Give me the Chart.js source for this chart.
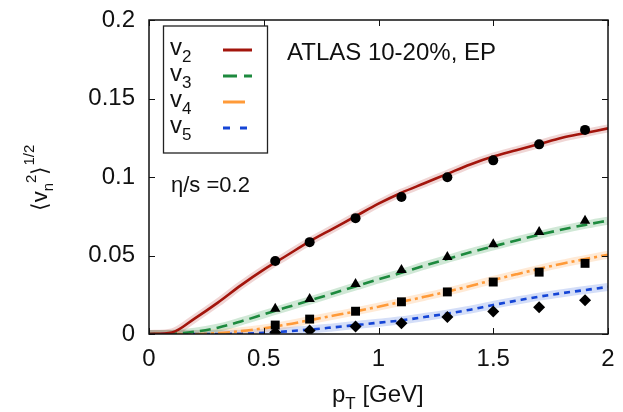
<!DOCTYPE html>
<html>
<head>
<meta charset="utf-8">
<script src="https://cdn.jsdelivr.net/npm/chart.js@4.4.1/dist/chart.umd.min.js"></script>
<style>
    html, body { margin: 0; padding: 0; background: #ffffff; }
    #wrap { width: 623px; height: 412px; }
</style>
</head>
<body>
<div id="wrap"><canvas id="flowChart" width="623" height="412"></canvas></div>
<script>
// ==========================================
// DATA
// ==========================================
const curvePt = [0, 0.1, 0.2, 0.3, 0.4, 0.5, 0.6, 0.7, 0.8, 0.9, 1.0, 1.1, 1.2, 1.3, 1.4, 1.5, 1.6, 1.7, 1.8, 1.9, 2.0];
const v2Curve = [0, 0.001, 0.010, 0.020, 0.031, 0.041, 0.050, 0.059, 0.067, 0.075, 0.083, 0.090, 0.096, 0.102, 0.108, 0.113, 0.117, 0.121, 0.125, 0.128, 0.131];
const v3Curve = [0, 0.0002, 0.0015, 0.004, 0.008, 0.0125, 0.017, 0.0213, 0.0258, 0.0303, 0.0348, 0.039, 0.0435, 0.0478, 0.052, 0.0558, 0.0596, 0.0632, 0.0665, 0.0695, 0.0722];
const v4Curve = [0, 0, 0, 0.0006, 0.0018, 0.0036, 0.006, 0.0088, 0.0116, 0.0144, 0.0174, 0.0205, 0.0237, 0.027, 0.0306, 0.0344, 0.038, 0.0415, 0.0448, 0.0477, 0.0505];
const v5Curve = [0, 0, 0, 0, 0.0002, 0.0008, 0.0017, 0.0028, 0.0042, 0.0057, 0.0072, 0.0087, 0.0108, 0.013, 0.0155, 0.0185, 0.0212, 0.0238, 0.026, 0.028, 0.030];

const atlasPt = [0.55, 0.7, 0.9, 1.1, 1.3, 1.5, 1.7, 1.9];
const atlasV2 = [0.0465, 0.0585, 0.0738, 0.0873, 0.0998, 0.1106, 0.1208, 0.130];
const atlasV3 = [0.0161, 0.0223, 0.0318, 0.0408, 0.049, 0.0571, 0.065, 0.0722];
const atlasV4 = [0.0057, 0.0095, 0.0145, 0.0205, 0.0268, 0.0331, 0.0394, 0.045];
const atlasV5 = [0.001, 0.0023, 0.0047, 0.0069, 0.0108, 0.0144, 0.0171, 0.0215];

const xTicks = [0, 0.5, 1, 1.5, 2];
const yTicks = [0, 0.05, 0.1, 0.15, 0.2];

document.addEventListener('DOMContentLoaded', function () {

    const FONT = "'Liberation Sans', Arial, sans-serif";
    const toXY = (xs, ys) => xs.map((x, i) => ({ x: x, y: ys[i] }));

    const series = [
        { sub: '2', curve: v2Curve, pts: atlasV2, color: '#a3150c', band: 'rgba(170,30,20,0.18)', dash: [], legendDash: [], marker: 'circle', r: 5 },
        { sub: '3', curve: v3Curve, pts: atlasV3, color: '#1d8a3e', band: 'rgba(40,150,70,0.22)', dash: [11, 6], legendDash: [14, 7], marker: 'triangle', r: 6 },
        { sub: '4', curve: v4Curve, pts: atlasV4, color: '#ff9a38', band: 'rgba(255,160,70,0.22)', dash: [12, 4, 3, 4], legendDash: [], marker: 'rect', r: 6.3 },
        { sub: '5', curve: v5Curve, pts: atlasV5, color: '#1545d6', band: 'rgba(40,90,220,0.2)', dash: [6, 5], legendDash: [7, 10], marker: 'rectRot', r: 6 }
    ];

    // ==========================================
    // 1. DATASETS
    // ==========================================
    const datasets = [];
    series.forEach(function (s) {
        datasets.push({
            data: toXY(atlasPt, s.pts),
            showLine: false,
            pointStyle: s.marker,
            pointRadius: s.r,
            backgroundColor: '#000',
            borderColor: '#000',
            borderWidth: 0,
            order: 0
        });
        datasets.push({
            data: toXY(curvePt, s.curve),
            showLine: true,
            borderColor: s.color,
            borderWidth: 2.6,
            borderDash: s.dash,
            pointRadius: 0,
            cubicInterpolationMode: 'monotone',
            order: 1
        });
        datasets.push({
            data: toXY(curvePt, s.curve),
            showLine: true,
            borderColor: s.band,
            borderWidth: 8,
            pointRadius: 0,
            cubicInterpolationMode: 'monotone',
            order: 2
        });
    });

    // ==========================================
    // 2. FRAME, INWARD TICKS, LEGEND AND LABELS
    // ==========================================
    const decorPlugin = {
        id: 'decor',
        afterDraw(chart) {
            const ctx = chart.ctx;
            const a = chart.chartArea;
            const xs = chart.scales.x, ys = chart.scales.y;
            ctx.save();

            // frame
            ctx.strokeStyle = '#111';
            ctx.lineWidth = 1.5;
            ctx.strokeRect(a.left, a.top, a.right - a.left, a.bottom - a.top);

            // inward ticks on all four sides
            ctx.lineWidth = 1;
            ctx.beginPath();
            xTicks.forEach(function (v) {
                const px = Math.round(xs.getPixelForValue(v)) + 0.5;
                ctx.moveTo(px, a.bottom); ctx.lineTo(px, a.bottom - 6);
                ctx.moveTo(px, a.top); ctx.lineTo(px, a.top + 6);
            });
            yTicks.forEach(function (v) {
                const py = Math.round(ys.getPixelForValue(v)) + 0.5;
                ctx.moveTo(a.left, py); ctx.lineTo(a.left + 6, py);
                ctx.moveTo(a.right, py); ctx.lineTo(a.right - 6, py);
            });
            ctx.stroke();

            // legend box
            ctx.fillStyle = '#fff';
            ctx.fillRect(163, 26, 104, 127);
            ctx.strokeStyle = '#222';
            ctx.lineWidth = 1.3;
            ctx.strokeRect(163.5, 26, 104, 127);
            series.forEach(function (s, i) {
                const base = 55 + i * 26;
                ctx.fillStyle = '#111';
                ctx.textBaseline = 'alphabetic';
                ctx.textAlign = 'left';
                ctx.font = '24px ' + FONT;
                ctx.fillText('v', 170, base);
                ctx.font = '17px ' + FONT;
                ctx.fillText(s.sub, 182, base + 7);
                ctx.strokeStyle = s.color;
                ctx.lineWidth = 3;
                ctx.setLineDash(s.legendDash);
                ctx.beginPath();
                ctx.moveTo(223, base - 5);
                ctx.lineTo(i === 2 ? 245 : 252, base - 5);
                ctx.stroke();
                ctx.setLineDash([]);
            });

            // annotations
            ctx.fillStyle = '#111';
            ctx.font = '24px ' + FONT;
            ctx.fillText('ATLAS 10-20%, EP', 287, 60);
            ctx.font = '22px ' + FONT;
            ctx.fillText('\u03b7/s =0.2', 171, 192);

            // x axis title: p_T [GeV]
            ctx.font = '24px ' + FONT;
            let x = 332;
            ctx.fillText('p', x, 402);
            x += ctx.measureText('p').width;
            ctx.font = '17px ' + FONT;
            ctx.fillText('T', x, 409);
            x += ctx.measureText('T').width;
            ctx.font = '24px ' + FONT;
            ctx.fillText(' [GeV]', x, 402);

            // y axis title: <v_n^2>^(1/2), rotated
            ctx.translate(47, 178);
            ctx.rotate(-Math.PI / 2);
            const parts = [
                { t: '\u27e8v', f: 22, dy: 0 },
                { t: 'n', f: 15, dy: 6 },
                { t: '2', f: 15, dy: -11 },
                { t: '\u27e9', f: 22, dy: 0 },
                { t: '1/2', f: 15, dy: -13 }
            ];
            let w = 0;
            parts.forEach(function (p) { ctx.font = p.f + 'px ' + FONT; w += ctx.measureText(p.t).width; });
            let cx = -w / 2;
            parts.forEach(function (p) {
                ctx.font = p.f + 'px ' + FONT;
                ctx.fillText(p.t, cx, p.dy);
                cx += ctx.measureText(p.t).width;
            });
            ctx.restore();
        }
    };

    // ==========================================
    // 3. CHART
    // ==========================================
    const ctx = document.getElementById('flowChart').getContext('2d');
    new Chart(ctx, {
        type: 'scatter',
        data: { datasets: datasets },
        options: {
            responsive: false,
            animation: false,
            layout: { padding: { top: 20, right: 15, left: 0, bottom: 0 } },
            plugins: { legend: { display: false }, tooltip: { enabled: false } },
            scales: {
                x: {
                    type: 'linear',
                    min: 0, max: 2,
                    afterBuildTicks: function (s) { s.ticks = xTicks.map(v => ({ value: v })); },
                    afterFit: function (s) {
                        s.height = 78;
                        s.paddingLeft = 0; s.paddingRight = 0;
                    },
                    grid: { display: false, drawTicks: false },
                    border: { display: false },
                    ticks: {
                        padding: 11,
                        color: '#111',
                        font: { family: FONT, size: 24 },
                        callback: v => String(+v.toFixed(2))
                    }
                },
                y: {
                    type: 'linear',
                    min: 0, max: 0.2,
                    afterBuildTicks: function (s) { s.ticks = yTicks.map(v => ({ value: v })); },
                    afterFit: function (s) {
                        s.width = 149;
                        s.paddingTop = 0; s.paddingBottom = 0;
                    },
                    grid: { display: false, drawTicks: false },
                    border: { display: false },
                    ticks: {
                        padding: 14,
                        color: '#111',
                        font: { family: FONT, size: 24 },
                        callback: v => String(+v.toFixed(2))
                    }
                }
            }
        },
        plugins: [decorPlugin]
    });
});
</script>
</body>
</html>
